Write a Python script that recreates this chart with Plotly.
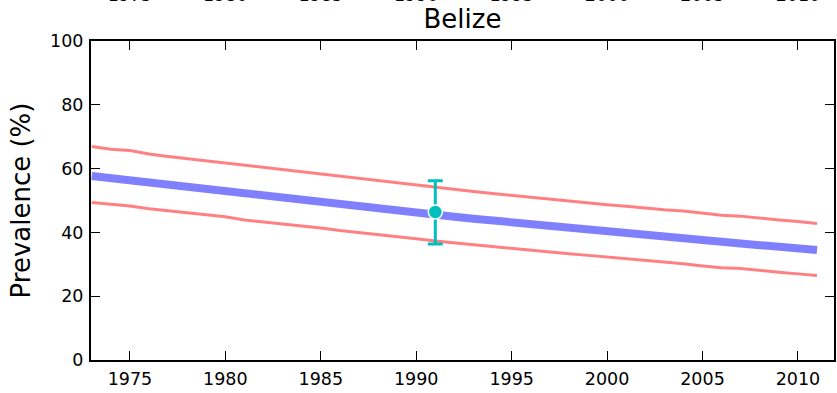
import plotly.graph_objects as go

years = list(range(1973, 2012))
central = [57.7, 57.0, 56.2, 55.5, 54.8, 54.1, 53.4, 52.8, 52.1, 51.4, 50.7, 50.0, 49.3,
           48.7, 48.0, 47.4, 46.7, 46.1, 45.5, 44.9, 44.3, 43.7, 43.1, 42.5, 41.9, 41.4,
           40.8, 40.2, 39.7, 39.1, 38.6, 38.0, 37.6, 37.0, 36.5, 36.0, 35.5, 35.0, 34.5]
upper = [66.9, 66.1, 65.7, 64.6, 63.8, 63.1, 62.5, 61.9, 61.0, 60.4, 59.8, 59.0, 58.3,
         57.6, 57.0, 56.1, 55.5, 54.8, 54.1, 53.4, 52.8, 52.2, 51.6, 50.9, 50.4, 49.8,
         49.2, 48.7, 48.2, 47.6, 47.1, 46.7, 46.0, 45.4, 45.1, 44.4, 43.9, 43.4, 42.8]
lower = [49.4, 48.8, 48.3, 47.4, 46.8, 46.2, 45.5, 44.9, 43.9, 43.3, 42.8, 42.1, 41.4,
         40.6, 40.0, 39.3, 38.6, 38.0, 37.3, 36.7, 36.1, 35.5, 35.0, 34.4, 33.9, 33.3,
         32.8, 32.3, 31.8, 31.2, 30.7, 30.2, 29.5, 28.9, 28.7, 28.0, 27.5, 27.0, 26.5]
obs_year = [1991]
obs_value = [46.4]
obs_err_plus = [9.8]
obs_err_minus = [10.0]

x_ticks = [1975, 1980, 1985, 1990, 1995, 2000, 2005, 2010]
y_ticks = [0, 20, 40, 60, 80, 100]
x_range = [1972.96, 2011.89]

FONT = "DejaVu Sans"
RED = "rgb(255,128,128)"
BLUE = "rgb(128,128,255)"
CYAN = "rgb(0,191,191)"

fig = go.Figure()
fig.add_trace(go.Scatter(x=years, y=upper, mode="lines",
                         line=dict(color=RED, width=3), showlegend=False))
fig.add_trace(go.Scatter(x=years, y=lower, mode="lines",
                         line=dict(color=RED, width=3), showlegend=False))
fig.add_trace(go.Scatter(x=years, y=central, mode="lines",
                         line=dict(color=BLUE, width=8), showlegend=False))
fig.add_trace(go.Scatter(x=obs_year, y=obs_value, mode="markers",
                         marker=dict(color=CYAN, size=14, line=dict(color="white", width=1.5)),
                         error_y=dict(type="data", symmetric=False, array=obs_err_plus,
                                      arrayminus=obs_err_minus, color=CYAN,
                                      thickness=3, width=7.5),
                         showlegend=False))
# empty trace so that the top (mirrored) label axis is created
fig.add_trace(go.Scatter(x=[], y=[], xaxis="x2", yaxis="y", showlegend=False,
                         hoverinfo="skip"))

axis_common = dict(showgrid=False, zeroline=False, showline=True, linecolor="black",
                   linewidth=2, ticks="inside", ticklen=9, tickwidth=1,
                   tickcolor="black", mirror="ticks", automargin=False,
                   tickfont=dict(family=FONT, size=17.5, color="black"))

fig.update_layout(
    width=837, height=393,
    margin=dict(l=91, r=3, t=41, b=33, autoexpand=False),
    paper_bgcolor="white", plot_bgcolor="white",
    font=dict(family=FONT, color="black"),
    title=dict(text="Belize", x=0.5, xref="paper", y=1 - 19 / 393, yref="container",
               xanchor="center", yanchor="middle",
               font=dict(family=FONT, size=26, color="black")),
    xaxis=dict(range=x_range, tickvals=x_ticks, ticklabelstandoff=2,
               **axis_common),
    xaxis2=dict(range=x_range, overlaying="x", side="top", anchor="y",
                tickvals=x_ticks, showline=False, ticks="", showgrid=False,
                zeroline=False, ticklabelstandoff=36, automargin=False,
                tickfont=dict(family=FONT, size=17.5, color="black")),
    yaxis=dict(range=[0, 100], tickvals=y_ticks, ticklabelstandoff=2,
               title=dict(text="Prevalence (%)", standoff=12,
                          font=dict(family=FONT, size=26, color="black")),
               **axis_common),
)

fig.write_html("out.html",
               config={"displayModeBar": False},
               post_script="document.body.style.margin='0px';"
                           "document.body.style.overflow='hidden';")
